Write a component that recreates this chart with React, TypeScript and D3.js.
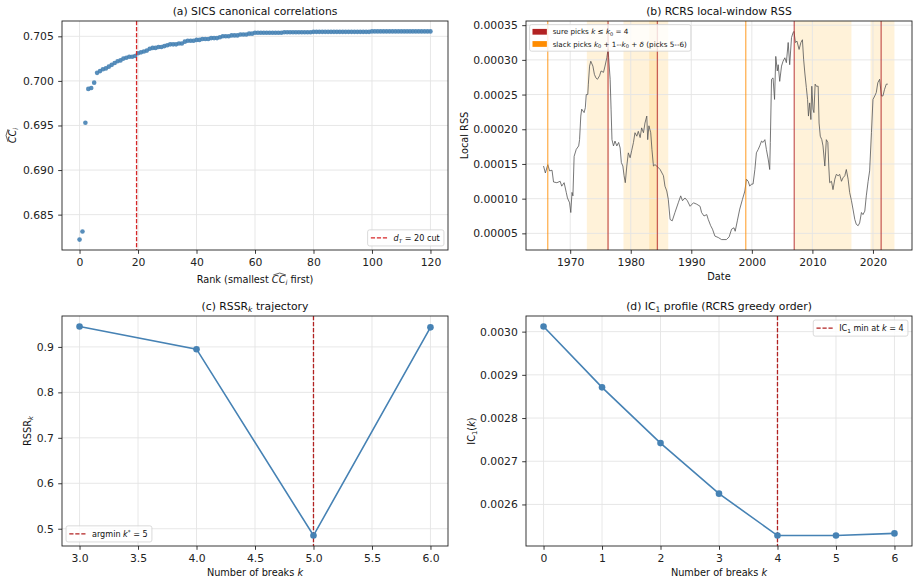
import { useEffect, useRef } from "react";
import * as d3 from "d3";

const W = 919;
const H = 583;
const FONT = "'DejaVu Sans', sans-serif";
const BLUE = "#4682b4";

const TICK_FS = 10.8;
const TITLE_FS = 10.8;
const LABEL_FS = 9.75;
const LEG_FS = 8.1;
const LEG_B_FS = 7.2;

// (a) canonical correlations, ranked smallest first
const ccRanked = [
  0.6822, 0.6831, 0.6953, 0.6991, 0.6992, 0.6998, 0.7009, 0.7011, 0.7013, 0.7014,
  0.7016, 0.7018, 0.702, 0.7022, 0.7023, 0.7025, 0.7026, 0.7027, 0.7027, 0.7028,
  0.7031, 0.7032, 0.7033, 0.7034, 0.7036, 0.7037, 0.7037, 0.7038, 0.7038, 0.7039,
  0.704, 0.7041, 0.7041, 0.7041, 0.7042, 0.7042, 0.7044, 0.7045, 0.7045, 0.7045,
  0.7046, 0.7046, 0.7047, 0.7047, 0.7047, 0.7048, 0.7048, 0.7048, 0.7049, 0.705,
  0.705, 0.705, 0.7051, 0.7051, 0.7051, 0.7052, 0.7052, 0.7052, 0.7053, 0.7053,
  0.7054, 0.7054, 0.7054, 0.7054, 0.7054, 0.7054, 0.7054, 0.7054, 0.7054, 0.7054,
  0.70545, 0.70545, 0.70545, 0.70545, 0.70545, 0.70545, 0.70545, 0.70545, 0.70545, 0.70545,
  0.7055, 0.7055, 0.7055, 0.7055, 0.7055, 0.7055, 0.7055, 0.7055, 0.7055, 0.7055,
  0.7055, 0.7055, 0.7055, 0.7055, 0.7055, 0.7055, 0.7055, 0.7055, 0.7055, 0.7055,
  0.70555, 0.70555, 0.70555, 0.70555, 0.70555, 0.70555, 0.70555, 0.70555, 0.70555, 0.70555,
  0.70555, 0.70555, 0.70555, 0.70555, 0.70555, 0.70555, 0.70555, 0.70555, 0.70555, 0.70555,
  0.70555,
];
const ccCut = 20;
const ccXTicks = [0, 20, 40, 60, 80, 100, 120];
const ccYTicks = [0.685, 0.69, 0.695, 0.7, 0.705];

// (b) local-window RSS, [year, RSS in units of 1e-5]
const rssSeries: [number, number][] = [
  [1965.6, 14.7], [1965.9, 13.7], [1966.3, 14.9], [1966.6, 14.0], [1967.0, 14.1],
  [1967.25, 12.4], [1967.8, 12.3], [1968.35, 12.5], [1968.6, 11.8], [1969.0, 12.3],
  [1969.35, 10.9], [1969.55, 10.1], [1969.9, 9.4], [1970.1, 8.0], [1970.3, 10.9],
  [1970.45, 10.4], [1970.65, 16.1], [1971.0, 17.1], [1971.4, 17.6], [1971.55, 18.5],
  [1971.75, 21.9], [1971.9, 22.9], [1972.3, 22.4], [1972.5, 23.1], [1972.65, 25.0],
  [1972.9, 25.0], [1973.0, 26.5], [1973.2, 29.1], [1973.4, 29.8], [1973.75, 29.1],
  [1974.0, 27.9], [1974.25, 27.4], [1974.5, 27.2], [1974.85, 27.7], [1975.1, 28.4],
  [1975.5, 28.2], [1975.75, 29.1], [1976.05, 30.3], [1976.25, 31.5], [1976.35, 30.3],
  [1976.6, 27.2], [1976.75, 22.9], [1976.9, 18.5], [1977.15, 17.6], [1977.4, 18.3],
  [1977.7, 17.6], [1978.0, 18.1], [1978.25, 17.3], [1978.45, 15.2], [1978.7, 14.7],
  [1978.9, 13.3], [1979.1, 12.3], [1979.35, 14.7], [1979.6, 16.6], [1979.9, 15.9],
  [1980.15, 16.9], [1980.45, 18.1], [1980.7, 19.5], [1981.0, 19.0], [1981.25, 19.7],
  [1981.55, 18.8], [1981.8, 20.2], [1982.1, 19.5], [1982.35, 20.9], [1982.65, 21.9],
  [1982.8, 18.5], [1983.0, 20.5], [1983.3, 19.5], [1983.5, 17.1], [1983.75, 14.7],
  [1984.0, 14.9], [1984.3, 14.7], [1984.85, 14.2], [1985.4, 13.3], [1985.65, 11.8],
  [1985.95, 11.1], [1986.2, 9.9], [1986.5, 7.0], [1986.85, 6.8], [1987.3, 8.0],
  [1987.85, 9.4], [1988.25, 10.4], [1988.55, 9.7], [1988.95, 10.1], [1989.35, 9.7],
  [1989.8, 8.9], [1990.35, 9.4], [1990.9, 9.2], [1991.45, 8.9], [1991.7, 8.0],
  [1992.1, 7.5], [1992.55, 7.7], [1992.8, 7.0], [1993.2, 6.1], [1993.5, 5.6],
  [1993.9, 4.6], [1994.45, 4.4], [1995.0, 4.1], [1995.8, 4.1], [1996.25, 4.5],
  [1996.65, 5.6], [1997.05, 5.8], [1997.25, 5.3], [1997.6, 6.8], [1998.0, 8.5],
  [1998.45, 9.9], [1998.85, 11.1], [1999.1, 12.8], [1999.4, 12.5], [1999.65, 11.8],
  [1999.95, 12.1], [2000.2, 12.1], [2000.5, 14.2], [2000.75, 16.6], [2001.05, 17.1],
  [2001.3, 17.6], [2001.6, 18.3], [2001.85, 18.1], [2002.15, 18.5], [2002.4, 17.1],
  [2002.7, 15.7], [2002.95, 14.2], [2003.05, 18.1], [2003.25, 27.2], [2003.5, 27.4],
  [2003.75, 24.3], [2003.95, 30.5], [2004.2, 28.4], [2004.35, 29.3], [2004.6, 26.9],
  [2004.9, 29.1], [2005.15, 29.8], [2005.45, 30.3], [2005.7, 29.6], [2006.0, 32.5],
  [2006.25, 29.3], [2006.55, 33.2], [2006.8, 33.9], [2006.95, 34.1], [2007.2, 32.5],
  [2007.45, 32.7], [2007.8, 31.5], [2008.1, 32.5], [2008.35, 32.9], [2008.55, 30.1],
  [2008.75, 28.1], [2009.0, 26.0], [2009.2, 24.3], [2009.35, 21.9], [2009.55, 23.8],
  [2009.75, 21.4], [2009.9, 26.2], [2010.1, 22.9], [2010.25, 22.4], [2010.45, 26.5],
  [2010.65, 26.2], [2010.95, 26.2], [2011.1, 20.9], [2011.3, 19.0], [2011.55, 18.5],
  [2011.75, 17.6], [2012.05, 14.7], [2012.3, 18.5], [2012.55, 18.1], [2012.7, 14.7],
  [2012.85, 12.3], [2013.15, 12.5], [2013.4, 11.3], [2013.7, 12.8], [2013.95, 13.5],
  [2014.25, 13.3], [2014.5, 13.5], [2014.8, 12.5], [2015.05, 13.0], [2015.35, 13.3],
  [2015.6, 14.2], [2015.9, 12.8], [2016.15, 10.9], [2016.45, 9.7], [2016.7, 8.5],
  [2017.0, 7.0], [2017.25, 6.3], [2017.55, 6.1], [2017.8, 6.5], [2018.1, 8.0],
  [2018.35, 7.7], [2018.65, 8.2], [2018.9, 10.4], [2019.2, 12.5], [2019.45, 14.0],
  [2019.75, 19.5], [2020.0, 24.3], [2020.3, 24.8], [2020.55, 25.3], [2020.8, 26.7],
  [2021.1, 27.2], [2021.4, 24.8], [2021.65, 24.8], [2021.9, 25.7], [2022.2, 26.5],
  [2022.45, 26.5],
];
const surePicks = [1976.25, 1984.4, 2007.0, 2021.35];
const slackPicks = [1966.3, 1999.0];
const windowSpans: [number, number][] = [
  [1972.75, 1976.45],
  [1978.8, 1984.45],
  [1983.05, 1986.2],
  [2007.05, 2016.45],
  [2019.6, 2023.55],
];
const rssXTicks = [1970, 1980, 1990, 2000, 2010, 2020];
const rssYTicks = [0.00005, 0.0001, 0.00015, 0.0002, 0.00025, 0.0003, 0.00035];

// (c) RSSR trajectory
const rssrK = [3, 4, 5, 6];
const rssrValues = [0.945, 0.895, 0.485, 0.943];
const rssrArgmin = 5;
const rssrXTicks = [3, 3.5, 4, 4.5, 5, 5.5, 6];
const rssrYTicks = [0.5, 0.6, 0.7, 0.8, 0.9];

// (d) IC1 profile
const icK = [0, 1, 2, 3, 4, 5, 6];
const icValues = [0.003012, 0.002871, 0.002742, 0.002625, 0.002528, 0.002528, 0.002533];
const icMin = 4;
const icXTicks = [0, 1, 2, 3, 4, 5, 6];
const icYTicks = [0.0026, 0.0027, 0.0028, 0.0029, 0.003];

type Box = { x: number; y: number; w: number; h: number };
type Part = { t: string; i?: boolean; sub?: boolean; sup?: boolean; hat?: boolean };
type Sel = d3.Selection<any, any, any, any>;

const boxA: Box = { x: 62, y: 21, w: 386, h: 229 };
const boxB: Box = { x: 526, y: 21, w: 386, h: 229 };
const boxC: Box = { x: 62, y: 316, w: 386, h: 230 };
const boxD: Box = { x: 526, y: 316, w: 386, h: 230 };

// matplotlib-style 5% margins
function padded([lo, hi]: [number, number]): [number, number] {
  const m = (hi - lo) * 0.05;
  return [lo - m, hi + m];
}

// text with italic / sub / sup / wide-hat runs
function rich(text: Sel, parts: Part[], fs: number) {
  let shift = 0;
  let idx = 0;
  const hats: [number, number][] = [];
  parts.forEach((p) => {
    const target = p.sub ? fs * 0.22 : p.sup ? -fs * 0.38 : 0;
    const ts = text.append("tspan").attr("dy", target - shift).text(p.t);
    shift = target;
    if (p.i) ts.attr("font-style", "italic");
    if (p.sub || p.sup) ts.attr("font-size", fs * 0.7);
    if (p.hat) hats.push([idx, idx + p.t.length - 1]);
    idx += p.t.length;
  });
  const node = text.node() as SVGTextElement;
  const parent = d3.select(node.parentNode as SVGGElement);
  hats.forEach(([a, b]) => {
    const ea = node.getExtentOfChar(a);
    const eb = node.getExtentOfChar(b);
    const base = node.getStartPositionOfChar(a).y;
    const x0 = ea.x + fs * 0.15;
    const x1 = eb.x + eb.width + fs * 0.05;
    parent
      .append("path")
      .attr(
        "d",
        `M${x0},${base - fs * 0.82}L${(x0 + x1) / 2},${base - fs * 1.02}L${x1},${base - fs * 0.82}`
      )
      .attr("fill", "none")
      .attr("stroke", "#222")
      .attr("stroke-width", 0.7);
  });
}

function makeAxes(
  svg: Sel,
  box: Box,
  x: d3.ScaleLinear<number, number>,
  y: d3.ScaleLinear<number, number>,
  xTicks: number[],
  yTicks: number[],
  fx: (v: number) => string,
  fy: (v: number) => string
) {
  const g = svg.append("g");
  const bg = g.append("g");
  const grid = g.append("g");
  const data = g.append("g");
  const frame = g.append("g");

  grid
    .selectAll("line.gx")
    .data(xTicks)
    .join("line")
    .attr("x1", (d) => x(d))
    .attr("x2", (d) => x(d))
    .attr("y1", box.y)
    .attr("y2", box.y + box.h)
    .attr("stroke", "#e4e4e4")
    .attr("stroke-width", 0.9);
  grid
    .selectAll("line.gy")
    .data(yTicks)
    .join("line")
    .attr("y1", (d) => y(d))
    .attr("y2", (d) => y(d))
    .attr("x1", box.x)
    .attr("x2", box.x + box.w)
    .attr("stroke", "#e4e4e4")
    .attr("stroke-width", 0.9);

  frame
    .append("g")
    .attr("transform", `translate(0,${box.y + box.h})`)
    .call(
      d3
        .axisBottom(x)
        .tickValues(xTicks)
        .tickFormat((d) => fx(d as number))
        .tickSize(3.8)
        .tickPadding(4.6)
    )
    .call((a) => a.select(".domain").remove())
    .call((a) => a.selectAll(".tick line").attr("stroke", "#222").attr("stroke-width", 0.9))
    .call((a) =>
      a
        .selectAll(".tick text")
        .attr("fill", "#222")
        .attr("font-size", TICK_FS)
        .attr("font-family", FONT)
    );

  frame
    .append("g")
    .attr("transform", `translate(${box.x},0)`)
    .call(
      d3
        .axisLeft(y)
        .tickValues(yTicks)
        .tickFormat((d) => fy(d as number))
        .tickSize(3.8)
        .tickPadding(4.4)
    )
    .call((a) => a.select(".domain").remove())
    .call((a) => a.selectAll(".tick line").attr("stroke", "#222").attr("stroke-width", 0.9))
    .call((a) =>
      a
        .selectAll(".tick text")
        .attr("fill", "#222")
        .attr("font-size", TICK_FS)
        .attr("font-family", FONT)
    );

  frame
    .append("rect")
    .attr("x", box.x)
    .attr("y", box.y)
    .attr("width", box.w)
    .attr("height", box.h)
    .attr("fill", "none")
    .attr("stroke", "#222")
    .attr("stroke-width", 0.9);

  return { bg, data, frame };
}

function labels(
  svg: Sel,
  box: Box,
  title: Part[],
  xlab: Part[],
  ylab: Part[],
  xlabDy: number,
  ylabDx: number
) {
  const t = svg
    .append("text")
    .attr("x", box.x + box.w / 2)
    .attr("y", box.y - 6.5)
    .attr("text-anchor", "middle")
    .attr("font-size", TITLE_FS)
    .attr("fill", "#111");
  rich(t, title, TITLE_FS);

  const xl = svg
    .append("text")
    .attr("x", box.x + box.w / 2)
    .attr("y", box.y + box.h + xlabDy)
    .attr("text-anchor", "middle")
    .attr("font-size", LABEL_FS)
    .attr("fill", "#111");
  rich(xl, xlab, LABEL_FS);

  const yg = svg
    .append("g")
    .attr("transform", `translate(${box.x - ylabDx},${box.y + box.h / 2}) rotate(-90)`);
  const yl = yg
    .append("text")
    .attr("text-anchor", "middle")
    .attr("font-size", LABEL_FS)
    .attr("fill", "#111");
  rich(yl, ylab, LABEL_FS);
}

type LegendItem = { kind: "dash" | "patch"; color: string; parts: Part[] };

function legend(layer: Sel, box: Box, corner: string, fs: number, items: LegendItem[], rowH: number) {
  const pad = 0.4 * fs;
  const hl = 2 * fs;
  const htp = 0.8 * fs;
  const gap = 0.5 * fs;
  const bap = 0.5 * fs;
  const lg = layer.append("g");
  const frameRect = lg.append("rect");
  const texts = items.map((it) => {
    const t = lg.append("text").attr("font-size", fs).attr("fill", "#111");
    rich(t, it.parts, fs);
    return t;
  });
  const tw = d3.max(texts, (t) => (t.node() as SVGTextElement).getComputedTextLength()) ?? 0;
  const lw = pad * 2 + hl + htp + tw + 1;
  const lh = pad * 2 + items.length * rowH + (items.length - 1) * gap;
  const x0 = corner.includes("right") ? box.x + box.w - bap - lw : box.x + bap;
  const y0 = corner.includes("lower") ? box.y + box.h - bap - lh : box.y + bap;
  frameRect
    .attr("x", x0)
    .attr("y", y0)
    .attr("width", lw)
    .attr("height", lh)
    .attr("rx", 2)
    .attr("fill", "white")
    .attr("fill-opacity", 0.8)
    .attr("stroke", "#d0d0d0")
    .attr("stroke-width", 0.8);
  items.forEach((it, i) => {
    const cy = y0 + pad + i * (rowH + gap) + rowH / 2;
    if (it.kind === "dash") {
      lg.append("line")
        .attr("x1", x0 + pad)
        .attr("x2", x0 + pad + hl)
        .attr("y1", cy)
        .attr("y2", cy)
        .attr("stroke", it.color)
        .attr("stroke-width", 1.3)
        .attr("stroke-dasharray", "4.2,1.8");
    } else {
      lg.append("rect")
        .attr("x", x0 + pad)
        .attr("y", cy - 0.4 * fs)
        .attr("width", hl)
        .attr("height", 0.8 * fs)
        .attr("fill", it.color);
    }
    texts[i].attr("x", x0 + pad + hl + htp).attr("y", cy + 0.36 * fs);
    texts[i].selectAll("tspan").filter((_, j) => j === 0).attr("x", x0 + pad + hl + htp);
  });
}

function drawA(svg: Sel) {
  const box = boxA;
  const x = d3.scaleLinear().domain(padded([0, ccRanked.length - 1])).range([box.x, box.x + box.w]);
  const y = d3
    .scaleLinear()
    .domain(padded(d3.extent(ccRanked) as [number, number]))
    .range([box.y + box.h, box.y]);
  const { data, frame } = makeAxes(svg, box, x, y, ccXTicks, ccYTicks, d3.format("d"), d3.format(".3f"));

  data
    .selectAll("circle")
    .data(ccRanked)
    .join("circle")
    .attr("cx", (_, i) => x(i))
    .attr("cy", (d) => y(d))
    .attr("r", 2.3)
    .attr("fill", BLUE)
    .attr("fill-opacity", 0.9);

  data
    .append("line")
    .attr("x1", x(ccCut - 0.5))
    .attr("x2", x(ccCut - 0.5))
    .attr("y1", box.y)
    .attr("y2", box.y + box.h)
    .attr("stroke", "#d62728")
    .attr("stroke-width", 1.3)
    .attr("stroke-dasharray", "4.2,1.8");

  labels(
    svg,
    box,
    [{ t: "(a) SICS canonical correlations" }],
    [{ t: "Rank (smallest " }, { t: "CC", i: true, hat: true }, { t: "i", i: true, sub: true }, { t: " first)" }],
    [{ t: "CC", i: true, hat: true }, { t: "i", i: true, sub: true }],
    33,
    46
  );

  legend(
    frame,
    box,
    "lower right",
    LEG_FS,
    [
      {
        kind: "dash",
        color: "#d62728",
        parts: [{ t: "d", i: true }, { t: "T", i: true, sub: true }, { t: " = " + ccCut + " cut" }],
      },
    ],
    9.6
  );
}

function drawB(svg: Sel) {
  const box = boxB;
  const years = rssSeries.map((d) => d[0]).concat(windowSpans.map((s) => s[1]));
  const x = d3
    .scaleLinear()
    .domain(padded(d3.extent(years) as [number, number]))
    .range([box.x, box.x + box.w]);
  const y = d3
    .scaleLinear()
    .domain(padded(d3.extent(rssSeries, (d) => d[1] * 1e-5) as [number, number]))
    .range([box.y + box.h, box.y]);
  const { bg, data, frame } = makeAxes(
    svg,
    box,
    x,
    y,
    rssXTicks,
    rssYTicks,
    d3.format("d"),
    d3.format(".5f")
  );

  bg.selectAll("rect")
    .data(windowSpans)
    .join("rect")
    .attr("x", (d) => x(d[0]))
    .attr("width", (d) => x(d[1]) - x(d[0]))
    .attr("y", box.y)
    .attr("height", box.h)
    .attr("fill", "#ffa500")
    .attr("fill-opacity", 0.15);

  const line = d3
    .line<[number, number]>()
    .x((d) => x(d[0]))
    .y((d) => y(d[1] * 1e-5));
  data
    .append("path")
    .datum(rssSeries)
    .attr("d", line)
    .attr("fill", "none")
    .attr("stroke", "#555")
    .attr("stroke-opacity", 0.8)
    .attr("stroke-width", 1);

  data
    .selectAll("line.sure")
    .data(surePicks)
    .join("line")
    .attr("x1", (d) => x(d))
    .attr("x2", (d) => x(d))
    .attr("y1", box.y)
    .attr("y2", box.y + box.h)
    .attr("stroke", "#b22222")
    .attr("stroke-opacity", 0.7)
    .attr("stroke-width", 1.3);
  data
    .selectAll("line.slack")
    .data(slackPicks)
    .join("line")
    .attr("x1", (d) => x(d))
    .attr("x2", (d) => x(d))
    .attr("y1", box.y)
    .attr("y2", box.y + box.h)
    .attr("stroke", "#ff8c00")
    .attr("stroke-opacity", 0.8)
    .attr("stroke-width", 1.1);

  labels(svg, box, [{ t: "(b) RCRS local-window RSS" }], [{ t: "Date" }], [{ t: "Local RSS" }], 30, 58.5);

  legend(
    frame,
    box,
    "upper left",
    LEG_B_FS,
    [
      {
        kind: "patch",
        color: "#b22222",
        parts: [
          { t: "sure picks " },
          { t: "k", i: true },
          { t: " \u2264 " },
          { t: "k", i: true },
          { t: "0", sub: true },
          { t: " = 4" },
        ],
      },
      {
        kind: "patch",
        color: "#ff8c00",
        parts: [
          { t: "slack picks " },
          { t: "k", i: true },
          { t: "0", sub: true },
          { t: " + 1--" },
          { t: "k", i: true },
          { t: "0", sub: true },
          { t: " + " },
          { t: "\u03b4", i: true },
          { t: " (picks 5--6)" },
        ],
      },
    ],
    8.6
  );
}

function drawC(svg: Sel) {
  const box = boxC;
  const x = d3.scaleLinear().domain(padded(d3.extent(rssrK) as [number, number])).range([box.x, box.x + box.w]);
  const y = d3
    .scaleLinear()
    .domain(padded(d3.extent(rssrValues) as [number, number]))
    .range([box.y + box.h, box.y]);
  const { data, frame } = makeAxes(
    svg,
    box,
    x,
    y,
    rssrXTicks,
    rssrYTicks,
    d3.format(".1f"),
    d3.format(".1f")
  );
  const pts = rssrK.map((k, i) => [k, rssrValues[i]] as [number, number]);
  data
    .append("path")
    .datum(pts)
    .attr("d", d3.line<[number, number]>().x((d) => x(d[0])).y((d) => y(d[1])))
    .attr("fill", "none")
    .attr("stroke", BLUE)
    .attr("stroke-width", 1.6);
  data
    .append("line")
    .attr("x1", x(rssrArgmin))
    .attr("x2", x(rssrArgmin))
    .attr("y1", box.y)
    .attr("y2", box.y + box.h)
    .attr("stroke", "#b22222")
    .attr("stroke-width", 1.3)
    .attr("stroke-dasharray", "4.2,1.8");
  data
    .selectAll("circle")
    .data(pts)
    .join("circle")
    .attr("cx", (d) => x(d[0]))
    .attr("cy", (d) => y(d[1]))
    .attr("r", 3.3)
    .attr("fill", BLUE);

  labels(
    svg,
    box,
    [{ t: "(c) RSSR" }, { t: "k", i: true, sub: true }, { t: " trajectory" }],
    [{ t: "Number of breaks " }, { t: "k", i: true }],
    [{ t: "RSSR" }, { t: "k", i: true, sub: true }],
    30,
    31
  );
  legend(
    frame,
    box,
    "lower left",
    LEG_FS,
    [
      {
        kind: "dash",
        color: "#b22222",
        parts: [{ t: "argmin " }, { t: "k", i: true }, { t: "*", sup: true }, { t: " = " + rssrArgmin }],
      },
    ],
    9.6
  );
}

function drawD(svg: Sel) {
  const box = boxD;
  const x = d3.scaleLinear().domain(padded(d3.extent(icK) as [number, number])).range([box.x, box.x + box.w]);
  const y = d3
    .scaleLinear()
    .domain(padded(d3.extent(icValues) as [number, number]))
    .range([box.y + box.h, box.y]);
  const { data, frame } = makeAxes(svg, box, x, y, icXTicks, icYTicks, d3.format("d"), d3.format(".4f"));
  const pts = icK.map((k, i) => [k, icValues[i]] as [number, number]);
  data
    .append("path")
    .datum(pts)
    .attr("d", d3.line<[number, number]>().x((d) => x(d[0])).y((d) => y(d[1])))
    .attr("fill", "none")
    .attr("stroke", BLUE)
    .attr("stroke-width", 1.6);
  data
    .append("line")
    .attr("x1", x(icMin))
    .attr("x2", x(icMin))
    .attr("y1", box.y)
    .attr("y2", box.y + box.h)
    .attr("stroke", "#b22222")
    .attr("stroke-width", 1.3)
    .attr("stroke-dasharray", "4.2,1.8");
  data
    .selectAll("circle")
    .data(pts)
    .join("circle")
    .attr("cx", (d) => x(d[0]))
    .attr("cy", (d) => y(d[1]))
    .attr("r", 3.3)
    .attr("fill", BLUE);

  labels(
    svg,
    box,
    [{ t: "(d) IC" }, { t: "1", sub: true }, { t: " profile (RCRS greedy order)" }],
    [{ t: "Number of breaks " }, { t: "k", i: true }],
    [{ t: "IC" }, { t: "1", sub: true }, { t: "(" }, { t: "k", i: true }, { t: ")" }],
    30,
    51
  );
  legend(
    frame,
    box,
    "upper right",
    LEG_FS,
    [
      {
        kind: "dash",
        color: "#b22222",
        parts: [{ t: "IC" }, { t: "1", sub: true }, { t: " min at " }, { t: "k", i: true }, { t: " = " + icMin }],
      },
    ],
    9.6
  );
}

export default function App() {
  const ref = useRef<SVGSVGElement>(null);

  useEffect(() => {
    if (!ref.current) return;
    document.body.style.margin = "0";
    const svg = d3.select(ref.current);
    svg.selectAll("*").remove();
    svg.append("rect").attr("width", W).attr("height", H).attr("fill", "white");
    drawA(svg);
    drawB(svg);
    drawC(svg);
    drawD(svg);
  }, []);

  return (
    <svg
      ref={ref}
      width={W}
      height={H}
      viewBox={`0 0 ${W} ${H}`}
      style={{ display: "block", fontFamily: FONT }}
    />
  );
}
